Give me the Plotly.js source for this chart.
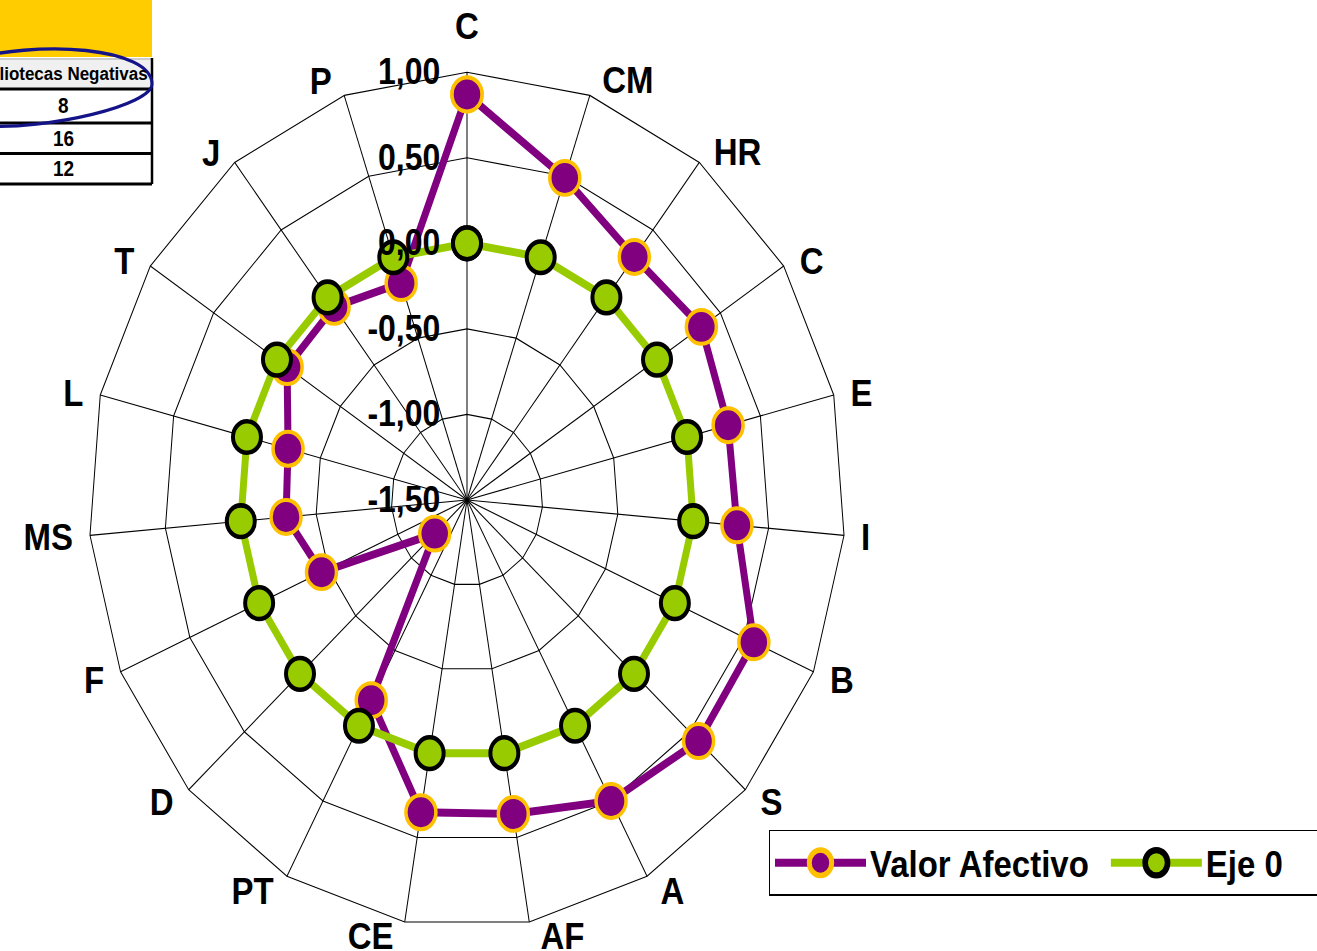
<!DOCTYPE html>
<html>
<head>
<meta charset="utf-8">
<script src="https://cdn.plot.ly/plotly-3.0.1.min.js"></script>
<style>
  html, body { margin: 0; padding: 0; background: #fff; width: 1317px; height: 951px; overflow: hidden; }
  #chart { width: 1317px; height: 841px; transform: scaleY(1.130797); transform-origin: 0 0; }
</style>
</head>
<body>
<div id="chart"></div>
<script>
// ---- data ----
const categoryIds = ['C_1','CM','HR','C_2','E','I','B','S','A','AF','CE','PT','D','F','MS','L','T','J','P'];
const categoryLabels = ['C','CM','HR','C','E','I','B','S','A','AF','CE','PT','D','F','MS','L','T','J','P'];
const valorAfectivo = [0.87, 0.49, 0.30, 0.35, 0.28, 0.29, 0.57, 0.58, 0.50, 0.36, 0.35, -0.17, -1.21, -0.45, -0.30, -0.28, -0.08, -0.07, -0.16];
const eje0 = [0, 0, 0, 0, 0, 0, 0, 0, 0, 0, 0, 0, 0, 0, 0, 0, 0, 0, 0];
const radialTicks = [-1.5, -1.0, -0.5, 0, 0.5, 1.0];
const radialTickText = ['-1,50', '-1,00', '-0,50', '0,00', '0,50', '1,00'];
const seriesNames = ['Valor Afectivo', 'Eje 0'];
const tableHeader = 'Bibliotecas Negativas';
const tableValues = ['8', '16', '12'];

// ---- helpers (decoration positions only) ----
const W = 1317, H = 951, HU = 841, S = H / HU;
const X = px => px / W;
const Y = py => 1 - py / H;
const close = arr => arr.concat([arr[0]]);

const data = [
  {
    type: 'scatterpolar', name: seriesNames[0],
    theta: close(categoryIds), r: close(valorAfectivo),
    mode: 'lines+markers', cliponaxis: true,
    line: { color: '#800080', width: 7 },
    marker: { color: '#800080', size: 30, line: { color: '#FFC000', width: 3.5 } }
  },
  {
    type: 'scatterpolar', name: seriesNames[1],
    theta: close(categoryIds), r: close(eje0),
    mode: 'lines+markers', cliponaxis: true,
    line: { color: '#99CC00', width: 7 },
    marker: { color: '#99CC00', size: 28, line: { color: '#000000', width: 4 } }
  }
];

const BOLD = 'Liberation Sans, Arial, sans-serif';

// table decoration
const shapes = [
  { type: 'rect', xref: 'paper', yref: 'paper', x0: X(-5), x1: X(152), y0: Y(57), y1: Y(-5), fillcolor: '#FFCC00', line: { width: 0 } },
  { type: 'rect', xref: 'paper', yref: 'paper', x0: X(-5), x1: X(152), y0: Y(89), y1: Y(60), fillcolor: '#F0F0F0', line: { width: 0 } },
  { type: 'rect', xref: 'paper', yref: 'paper', x0: X(-5), x1: X(152), y0: Y(184), y1: Y(89), fillcolor: '#FFFFFF', line: { width: 0 } },
  { type: 'line', xref: 'paper', yref: 'paper', x0: X(-5), x1: X(152), y0: Y(59), y1: Y(59), line: { color: '#999999', width: 1 } },
  { type: 'line', xref: 'paper', yref: 'paper', x0: X(-5), x1: X(152), y0: Y(89), y1: Y(89), line: { color: '#000', width: 2.5 } },
  { type: 'line', xref: 'paper', yref: 'paper', x0: X(-5), x1: X(152), y0: Y(123), y1: Y(123), line: { color: '#000', width: 2.5 } },
  { type: 'line', xref: 'paper', yref: 'paper', x0: X(-5), x1: X(152), y0: Y(153.5), y1: Y(153.5), line: { color: '#000', width: 2.5 } },
  { type: 'line', xref: 'paper', yref: 'paper', x0: X(-5), x1: X(152), y0: Y(184), y1: Y(184), line: { color: '#000', width: 2.5 } },
  { type: 'line', xref: 'paper', yref: 'paper', x0: X(152), x1: X(152), y0: Y(184), y1: Y(58), line: { color: '#000', width: 2.5 } },
  { type: 'path', xref: 'paper', yref: 'paper',
    path: 'M ' + X(152) + ',' + Y(84) +
          ' C ' + X(152) + ',' + Y(48) + ' ' + X(40) + ',' + Y(38) + ' ' + X(-40) + ',' + Y(62) +
          ' C ' + X(-90) + ',' + Y(80) + ' ' + X(-90) + ',' + Y(120) + ' ' + X(-20) + ',' + Y(126) +
          ' C ' + X(50) + ',' + Y(130) + ' ' + X(152) + ',' + Y(105) + ' ' + X(152) + ',' + Y(84) + ' Z',
    line: { color: '#141488', width: 3 }, fillcolor: 'rgba(0,0,0,0)' }
];

const annotations = [
  { xref: 'paper', yref: 'paper', x: X(150), y: Y(74), xanchor: 'right', yanchor: 'middle', text: tableHeader, showarrow: false, font: { family: BOLD, size: 17, color: '#000', weight: 'bold' } }
].concat(tableValues.map((v, i) => ({
  xref: 'paper', yref: 'paper', x: X(63), y: Y([106, 138, 169][i]), xanchor: 'center', yanchor: 'middle',
  text: v, showarrow: false, font: { family: BOLD, size: 19, color: '#000', weight: 'bold' }
})));

const polarDomX = [0.06735, 0.64184], polarDomY = [0.02440, 0.92408];

const layout = {
  width: W, height: HU,
  margin: { l: 0, r: 0, t: 0, b: 0, autoexpand: false },
  paper_bgcolor: '#fff',
  separators: ', ',
  showlegend: true,
  legend: {
    orientation: 'h', x: X(769), y: Y(830), xanchor: 'left', yanchor: 'top',
    bgcolor: '#fff', bordercolor: '#000', borderwidth: 1,
    font: { family: BOLD, size: 33, color: '#000', weight: 'bold' },
    itemwidth: 90, itemsizing: 'trace'
  },
  polar: {
    domain: { x: polarDomX, y: polarDomY },
    bgcolor: '#fff',
    gridshape: 'linear',
    angularaxis: {
      type: 'category', categoryorder: 'array', categoryarray: categoryIds,
      tickmode: 'array', tickvals: categoryIds, ticktext: categoryLabels,
      rotation: 90, direction: 'clockwise',
      showgrid: true, gridcolor: '#000', gridwidth: 1,
      showline: true, linecolor: '#000', linewidth: 1,
      ticks: '',
      tickfont: { family: BOLD, size: 33, color: '#000', weight: 'bold' }
    },
    radialaxis: {
      range: [-1.5, 1], tickmode: 'array', tickvals: radialTicks, ticktext: radialTickText,
      angle: 90, side: 'counterclockwise', tickangle: 90,
      showgrid: true, gridcolor: '#000', gridwidth: 1,
      showline: false, ticks: 'outside', ticklen: 15, tickcolor: 'rgba(0,0,0,0)',
      tickfont: { family: BOLD, size: 32, color: '#000', weight: 'bold' }
    }
  },
  shapes: shapes,
  annotations: annotations
};

function parseTranslate(str) {
  const m = /translate\(\s*([-\d.e]+)[ ,]+([-\d.e]+)/.exec(str || '');
  return m ? [parseFloat(m[1]), parseFloat(m[2])] : [0, 0];
}

function polish(gd) {
  // category labels: pull them in toward the grid the way the original places them
  const cx = W * (polarDomX[0] + polarDomX[1]) / 2;
  const cy = H * (1 - (polarDomY[0] + polarDomY[1]) / 2);
  gd.querySelectorAll('g.angularaxistick text').forEach(t => {
    const b = t.getBoundingClientRect();
    const vx = (b.left + b.width / 2) - cx, vy = cy - (b.top + b.height / 2);
    const rr = Math.hypot(vx, vy) || 1;
    const cos = vx / rr, sin = vy / rr;
    let dx = Math.abs(cos) < 0.1 ? 0 : 10 * Math.sign(cos);
    let dy = sin < 0 ? 20 * sin : (Math.abs(cos) < 0.1 ? -18 : 9 * sin);
    const prev = t.getAttribute('transform') || '';
    t.setAttribute('transform', (prev + ' translate(' + dx + ',' + (dy / S) + ')').trim());
  });
  // legend samples: longer lines and larger markers, as in the original
  const items = gd.querySelectorAll('.legend .traces');
  items.forEach((t, i) => {
    t.querySelectorAll('.legendlines path').forEach(p => p.setAttribute('d', 'M5,0h91'));
    t.querySelectorAll('.legendpoints path.scatterpts').forEach(p => p.setAttribute('transform', 'translate(50.5,0) scale(1.4)'));
    if (i === 1) {
      const [tx, ty] = parseTranslate(t.getAttribute('transform'));
      t.setAttribute('transform', 'translate(' + (tx + 12) + ',' + ty + ')');
    }
  });
  const bg = gd.querySelector('.legend rect.bg');
  if (bg) bg.setAttribute('width', 620);
  gd.querySelectorAll('.legend .scrollbox, .legend g').forEach(g => {
    if (g.getAttribute('clip-path')) g.removeAttribute('clip-path');
    if (g.style && g.style.clipPath) g.style.clipPath = '';
  });
  gd.querySelectorAll('clipPath[id^="legend"] rect').forEach(r => r.setAttribute('width', 620));
}

const gd = document.getElementById('chart');
Plotly.newPlot(gd, data, layout, { displayModeBar: false, staticPlot: true }).then(() => polish(gd));
</script>
</body>
</html>
